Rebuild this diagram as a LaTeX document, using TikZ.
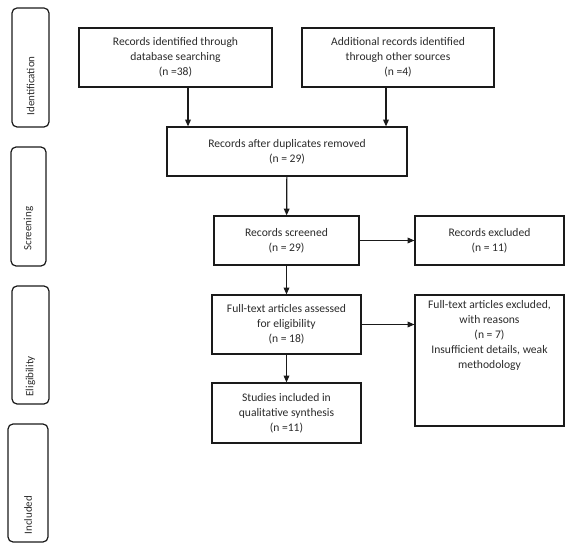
\documentclass[tikz,border=0pt]{standalone}
\usepackage{fontspec}
\setmainfont{Carlito}
\usepackage{xcolor}
\usepackage{tikz}
\usetikzlibrary{arrows.meta,positioning,calc}
\definecolor{ink}{HTML}{1A1A1A}
\definecolor{txt}{HTML}{2B2B2B}
\tikzset{
  box/.style={draw=ink,line width=1.2pt,fill=white,inner sep=3pt,align=center,
    text=txt,font=\fontsize{11.6}{15}\selectfont},
  phase/.style={draw=ink,line width=1.2pt,rounded corners=5pt},
  phaselab/.style={rotate=90,anchor=west,inner sep=0pt,text=txt,
    font=\fontsize{11}{12}\selectfont},
  plain/.style={inner sep=3pt,align=center,text=txt,font=\fontsize{11.6}{15}\selectfont},
  flow/.style={-{Triangle[length=2.4mm,width=2mm]},line width=1.2pt,draw=ink},
}
\begin{document}
\begin{tikzpicture}[x=1pt,y=-1pt]
  \useasboundingbox (0,0) rectangle (573,553);
  % --- phase labels on the left ---
  \node[phase,minimum width=37pt,minimum height=119pt] (pid) at (30.5,67.5) {};
  \node[phase,minimum width=35pt,minimum height=119pt] (psc) at (28.5,206.5) {};
  \node[phase,minimum width=37pt,minimum height=118pt] (pel) at (30.5,345) {};
  \node[phase,minimum width=40pt,minimum height=118pt] (pin) at (28,483) {};
  \node[phaselab] at ($(pid.south)+(0,-12)$) {Identification};
  \node[phaselab] at ($(psc.south)+(0,-16)$) {Screening};
  \node[phaselab] at ($(pel.south)+(0,-8)$) {Eligibility};
  \node[phaselab] at ($(pin.south)+(0,-8)$) {Included};
  % --- flow boxes ---
  \node[box,minimum width=193pt,minimum height=59pt] (src1) at (175.5,57.5)
    {Records identified through\\database searching\\(n =38)};
  \node[box,minimum width=192pt,minimum height=59pt] (src2) at (398,57.5)
    {Additional records identified\\through other sources\\(n =4)};
  \node[box,minimum width=240pt,minimum height=49pt] (dup) at (287,151.5)
    {Records after duplicates removed\\(n = 29)};
  \node[box,minimum width=145pt,minimum height=49pt] (scr) at (286.5,240.5)
    {Records screened\\(n = 29)};
  \node[box,minimum width=149pt,minimum height=49pt] (exc) at (489.5,240.5)
    {Records excluded\\(n = 11)};
  \node[box,minimum width=149pt,minimum height=59pt] (full) at (286.5,324.5)
    {Full-text articles assessed\\for eligibility\\(n = 18)};
  \node[box,minimum width=149pt,minimum height=60pt] (incl) at (286.5,413)
    {Studies included in\\qualitative synthesis\\(n =11)};
  \node[box,minimum width=149pt,minimum height=131pt] (fexc) at (489.5,360.5) {};
  \node[plain,below=3pt of fexc.north] (fexct)
    {Full-text articles excluded,\\with reasons\\(n = 7)\\Insufficient details, weak\\methodology};
  % --- connectors ---
  \draw[flow] ([xshift=12.5pt]src1.south) -- ([xshift=12.5pt]src1.south |- dup.north);
  \draw[flow] ([xshift=-12pt]src2.south) -- ([xshift=-12pt]src2.south |- dup.north);
  \draw[flow] (dup) -- (scr);
  \draw[flow] (scr) -- (exc);
  \draw[flow] (scr) -- (full);
  \draw[flow] (full.east) -- (full.east -| fexc.west);
  \draw[flow] (full) -- (incl);
\end{tikzpicture}
\end{document}
